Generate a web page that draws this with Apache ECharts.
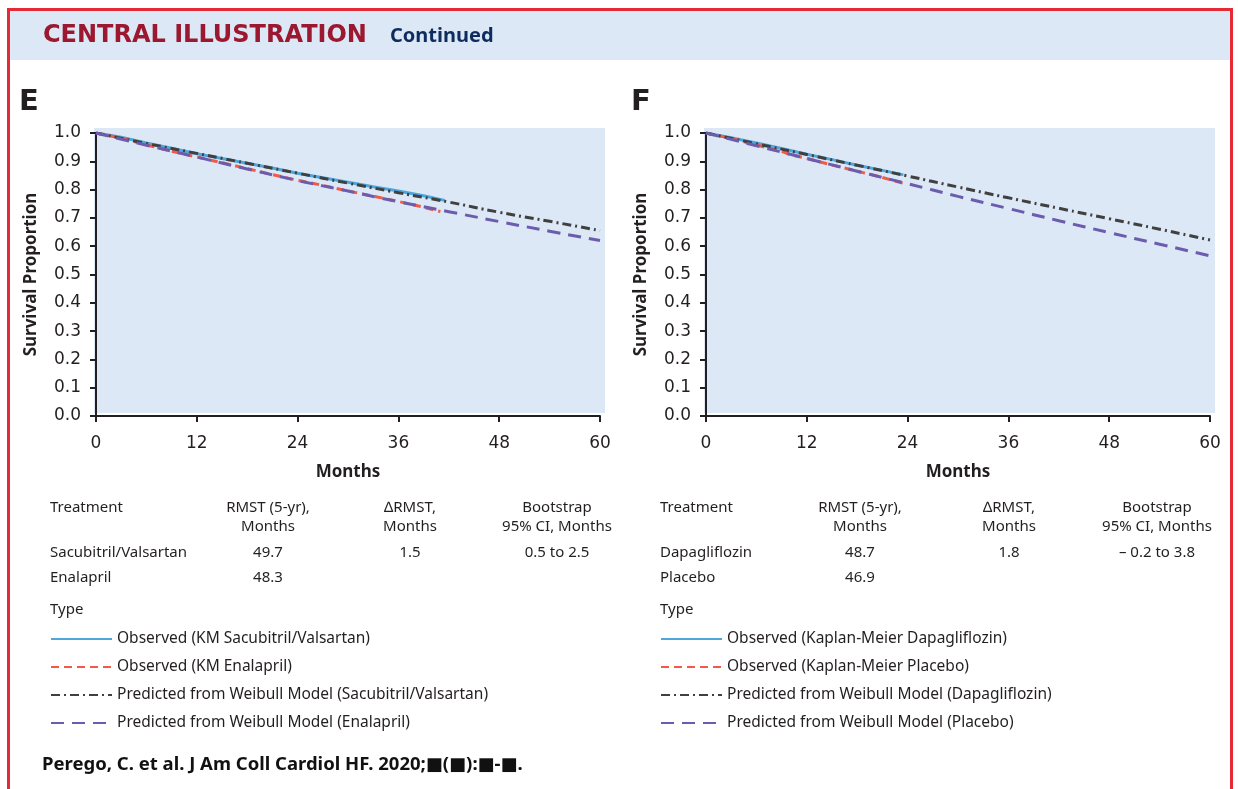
<!DOCTYPE html>
<html>
<head>
<meta charset="utf-8">
<script src="https://cdn.jsdelivr.net/npm/echarts@6/dist/echarts.min.js"></script>
<style>
  html, body { margin: 0; padding: 0; background: #fff; }
  #chart { width: 1238px; height: 789px; }
</style>
</head>
<body>
<div id="chart"></div>
<script>
// ---- data ----
const monthTicks = [0, 12, 24, 36, 48, 60];

// Panel E: PARADIGM-HF
const eKmSacubitril = [[0,1],[3,0.985],[6,0.965],[9,0.946],[12,0.927],[15,0.91],[18,0.893],[21,0.876],[24,0.858],[27,0.842],[30,0.826],[33,0.81],[36,0.795],[39,0.778],[41.5,0.762]];
const eKmEnalapril = [[0,1],[3,0.982],[6,0.958],[9,0.936],[12,0.915],[15,0.895],[18,0.874],[21,0.853],[24,0.833],[27,0.815],[30,0.795],[33,0.777],[36,0.758],[39,0.738],[41,0.722]];
const eWeibullSacubitril = [[0,1],[6,0.963],[12,0.928],[18,0.893],[24,0.858],[30,0.823],[36,0.789],[42,0.756],[48,0.72],[54,0.688],[60,0.655]];
const eWeibullEnalapril = [[0,1],[6,0.957],[12,0.915],[18,0.873],[24,0.832],[30,0.795],[36,0.757],[42,0.722],[48,0.687],[54,0.653],[60,0.62]];

// Panel F: DAPA-HF
const fKmDapagliflozin = [[0,1],[3,0.983],[6,0.965],[9,0.945],[12,0.925],[15,0.906],[18,0.886],[21,0.868],[23.5,0.852]];
const fKmPlacebo = [[0,1],[3,0.981],[6,0.958],[9,0.935],[10,0.924],[12,0.91],[15,0.887],[18,0.865],[21,0.843],[23.5,0.822]];
const fWeibullDapagliflozin = [[0,1],[6,0.962],[12,0.924],[18,0.886],[24,0.848],[30,0.809],[36,0.771],[42,0.734],[48,0.697],[54,0.66],[60,0.622]];
const fWeibullPlacebo = [[0,1],[6,0.955],[12,0.91],[18,0.865],[24,0.821],[30,0.776],[36,0.733],[42,0.69],[48,0.648],[54,0.607],[60,0.566]];

const seriesNamesE = ['Observed (KM Sacubitril/Valsartan)', 'Observed (KM Enalapril)', 'Predicted from Weibull Model (Sacubitril/Valsartan)', 'Predicted from Weibull Model (Enalapril)'];
const seriesNamesF = ['Observed (Kaplan-Meier Dapagliflozin)', 'Observed (Kaplan-Meier Placebo)', 'Predicted from Weibull Model (Dapagliflozin)', 'Predicted from Weibull Model (Placebo)'];

const tableHead = ['Treatment', 'RMST (5-yr),\nMonths', '\u2206RMST,\nMonths', 'Bootstrap\n95% CI, Months'];
const tableRowsE = [['Sacubitril/Valsartan', '49.7', '1.5', '0.5 to 2.5'], ['Enalapril', '48.3', '', '']];
const tableRowsF = [['Dapagliflozin', '48.7', '1.8', '\u2013 0.2 to 3.8'], ['Placebo', '46.9', '', '']];

// citation, with the placeholder squares drawn through rich text
const citation = 'Perego, C. et al. J Am Coll Cardiol HF. 2020;{sq|\u25A0}({sq|\u25A0}):{sq|\u25A0}-{sq|\u25A0}.';

// ---- styles / layout ----
const ink = '#231f20';
const font = '"Noto Sans", sans-serif';
const tickFont = '"DejaVu Sans", sans-serif';
const colBlue = '#4ea6dc', colRed = '#f15a47', colGray = '#404040', colPurple = '#6b5cad';
const plotBg = '#dce8f5';
const grids = [
    { left: 96, top: 133, width: 504, height: 283 },
    { left: 706, top: 133, width: 504, height: 283 }
];
const colXE = [0, 218, 360, 507];   // table column offsets from panel left
const colXF = [0, 200, 349, 497];

let chart = echarts.init(document.getElementById('chart'));

function makeAxes(i) {
    let xAxis = {
        type: 'value', gridIndex: i, min: 0, max: 60, interval: 12, offset: 2,
        name: 'Months', nameLocation: 'middle', nameGap: 46,
        nameTextStyle: { color: ink, fontFamily: font, fontSize: 17, fontWeight: 'bold' },
        axisLine: { lineStyle: { color: ink, width: 2 } },
        axisTick: { length: 6, lineStyle: { color: ink, width: 2 } },
        axisLabel: { color: ink, fontFamily: tickFont, fontSize: 17, margin: 17,
            customValues: monthTicks },
        splitLine: { show: false }
    };
    let yAxis = {
        type: 'value', gridIndex: i, min: 0, max: 1, interval: 0.1, offset: 2,
        name: 'Survival Proportion', nameLocation: 'middle', nameGap: 54,
        nameTextStyle: { color: ink, fontFamily: font, fontSize: 17, fontWeight: 'bold' },
        axisLine: { lineStyle: { color: ink, width: 2 } },
        axisTick: { length: 6, lineStyle: { color: ink, width: 2 } },
        axisLabel: { color: ink, fontFamily: tickFont, fontSize: 17, margin: 13,
            formatter: v => v.toFixed(1) },
        splitLine: { show: false }
    };
    return { xAxis, yAxis };
}

function lineSeries(name, data, i, color, type, smooth) {
    return {
        name: name, type: 'line', xAxisIndex: i, yAxisIndex: i,
        data: data, symbol: 'none', smooth: smooth, animation: false,
        lineStyle: { color: color, width: 3, type: type },
        itemStyle: { color: color }
    };
}

function tableGraphics(rows, x0, colX) {
    let els = [];
    tableHead.forEach((t, c) => {
        els.push({ type: 'text', x: x0 + colX[c], y: 498,
            style: { text: t, fill: ink, font: '15px ' + font, lineHeight: 19,
                textAlign: c === 0 ? 'left' : 'center', textVerticalAlign: 'top' } });
    });
    rows.forEach((r, ri) => {
        r.forEach((t, c) => {
            if (!t) return;
            els.push({ type: 'text', x: x0 + colX[c], y: 553 + ri * 25,
                style: { text: t, fill: ink, font: '15px ' + font,
                    textAlign: c === 0 ? 'left' : 'center', textVerticalAlign: 'middle' } });
        });
    });
    els.push({ type: 'text', x: x0, y: 610,
        style: { text: 'Type', fill: ink, font: '15px ' + font, textVerticalAlign: 'middle' } });
    return els;
}

let ax0 = makeAxes(0), ax1 = makeAxes(1);

let legendBase = {
    orient: 'vertical', itemWidth: 61, itemHeight: 14, itemGap: 12, top: 631, padding: 0,
    textStyle: { color: ink, fontFamily: font, fontSize: 15.5, lineHeight: 16 },
    itemStyle: { color: 'rgba(0,0,0,0)', borderWidth: 0 },
    selectedMode: false
};

let graphics = [
    { type: 'rect', z: -20, shape: { x: 10, y: 11, width: 1220, height: 49 }, style: { fill: plotBg } },
    { type: 'rect', z: 10, shape: { x: 8.5, y: 9.5, width: 1223, height: 800 },
        style: { fill: null, stroke: '#e52a33', lineWidth: 3 } },
    { type: 'text', x: 43, y: 36, style: { text: 'CENTRAL ILLUSTRATION', fill: '#9b1830',
        font: 'bold 24px "DejaVu Sans", sans-serif', textVerticalAlign: 'middle' } },
    { type: 'text', x: 390, y: 36, style: { text: 'Continued', fill: '#0f2c5e',
        font: 'bold 20px ' + font, textVerticalAlign: 'middle' } },
    { type: 'text', x: 19, y: 102, style: { text: 'E', fill: ink, font: 'bold 29px "DejaVu Sans", sans-serif', textVerticalAlign: 'middle' } },
    { type: 'text', x: 631, y: 102, style: { text: 'F', fill: ink, font: 'bold 29px "DejaVu Sans", sans-serif', textVerticalAlign: 'middle' } },
    { type: 'text', x: 42, y: 765, style: { text: citation, fill: '#111', font: 'bold 18.5px ' + font,
        textVerticalAlign: 'middle',
        rich: { sq: { fontSize: 18, fontFamily: '"DejaVu Sans"', fontWeight: 'bold', fill: '#111' } } } }
];
grids.forEach(g => {
    graphics.push({ type: 'rect', z: -10,
        shape: { x: g.left - 2, y: g.top - 5, width: g.width + 7, height: g.height + 2 },
        style: { fill: plotBg } });
});
graphics = graphics.concat(tableGraphics(tableRowsE, 50, colXE), tableGraphics(tableRowsF, 660, colXF));

let option = {
    backgroundColor: '#fff',
    animation: false,
    grid: grids.map(g => Object.assign({ containLabel: false }, g)),
    xAxis: [ax0.xAxis, ax1.xAxis],
    yAxis: [ax0.yAxis, ax1.yAxis],
    legend: [
        Object.assign({}, legendBase, { left: 50, data: seriesNamesE }),
        Object.assign({}, legendBase, { left: 660, data: seriesNamesF })
    ],
    graphic: { elements: graphics },
    series: [
        lineSeries(seriesNamesE[0], eKmSacubitril, 0, colBlue, 'solid', false),
        lineSeries(seriesNamesE[1], eKmEnalapril, 0, colRed, [8, 5], false),
        lineSeries(seriesNamesE[2], eWeibullSacubitril, 0, colGray, [9, 4, 2, 4], true),
        lineSeries(seriesNamesE[3], eWeibullEnalapril, 0, colPurple, [13, 8], true),
        lineSeries(seriesNamesF[0], fKmDapagliflozin, 1, colBlue, 'solid', false),
        lineSeries(seriesNamesF[1], fKmPlacebo, 1, colRed, [8, 5], false),
        lineSeries(seriesNamesF[2], fWeibullDapagliflozin, 1, colGray, [9, 4, 2, 4], true),
        lineSeries(seriesNamesF[3], fWeibullPlacebo, 1, colPurple, [13, 8], true)
    ]
};

chart.setOption(option, true);
window.addEventListener('resize', function () { chart.resize(); });
</script>
</body>
</html>
